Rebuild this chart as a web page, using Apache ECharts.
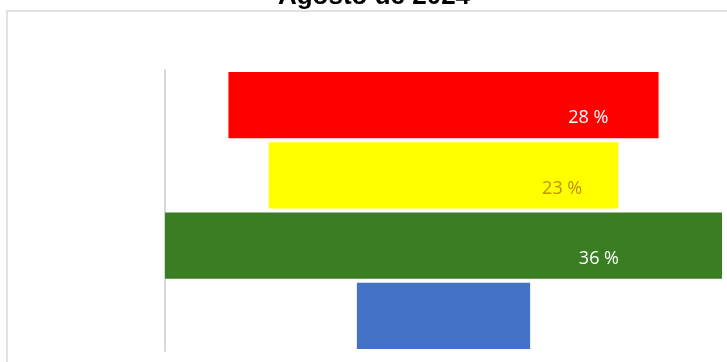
<!DOCTYPE html>
<html>
<head>
<meta charset="utf-8">
<script src="https://cdn.jsdelivr.net/npm/echarts@6/dist/echarts.min.js"></script>
<style>
html,body{margin:0;padding:0;background:#fff;overflow:hidden;}
#chart{width:727px;height:362px;}
</style>
</head>
<body>
<div id="chart"></div>
<script>
const titleText = 'Agosto de 2024';
const categories = ['Rojo', 'Amarillo', 'Verde', 'Azul'];
const values = [27.8, 22.6, 36, 11.2];
const barColors = ['#ff0000', '#ffff00', '#3a7d22', '#4472c4'];
const labelColors = ['#ffffff', '#bf9000', '#ffffff', null];
const labelXPct = [79, 78.2, 74.3, 0];

const maxVal = Math.max(...values);
const offsets = values.map(v => (maxVal - v) / 2);

const chart = echarts.init(document.getElementById('chart'), null, {renderer: 'canvas'});
chart.setOption({
  animation: false,
  backgroundColor: '#ffffff',
  graphic: [{
    type: 'polyline',
    shape: {points: [[7, 400], [7, 11], [900, 11]]},
    style: {fill: 'none', stroke: '#d9d9d9', lineWidth: 1.5},
    silent: true,
    z: -1
  }, {
    type: 'text',
    x: 374, y: 10,
    style: {
      text: titleText, align: 'center', verticalAlign: 'bottom',
      fontFamily: 'Liberation Sans', fontWeight: 'bold', fontSize: 26, fill: '#000000'
    },
    silent: true,
    z: 10
  }],
  grid: {left: 165, right: 5, top: 70, bottom: 11, containLabel: false},
  xAxis: {
    type: 'value', min: 0, max: maxVal,
    show: false
  },
  yAxis: {
    type: 'category', data: categories, inverse: true,
    axisLine: {show: true, lineStyle: {color: '#d9d9d9', width: 2}},
    axisTick: {show: false},
    axisLabel: {show: false},
    splitLine: {show: false}
  },
  series: [
    {
      type: 'bar', stack: 'f', data: offsets,
      itemStyle: {color: 'transparent'},
      barCategoryGap: '6%',
      silent: true
    },
    {
      type: 'bar', stack: 'f',
      barCategoryGap: '6%',
      data: values.map((v, i) => ({
        value: v,
        itemStyle: {color: barColors[i]},
        label: {
          show: labelColors[i] !== null,
          position: [labelXPct[i] + '%', '70%'],
          verticalAlign: 'middle',
          align: 'left',
          color: labelColors[i] || '#fff',
          fontFamily: 'Open Sans',
          fontSize: 18,
          formatter: () => Math.round(v) + ' %'
        }
      }))
    }
  ]
});
</script>
</body>
</html>
